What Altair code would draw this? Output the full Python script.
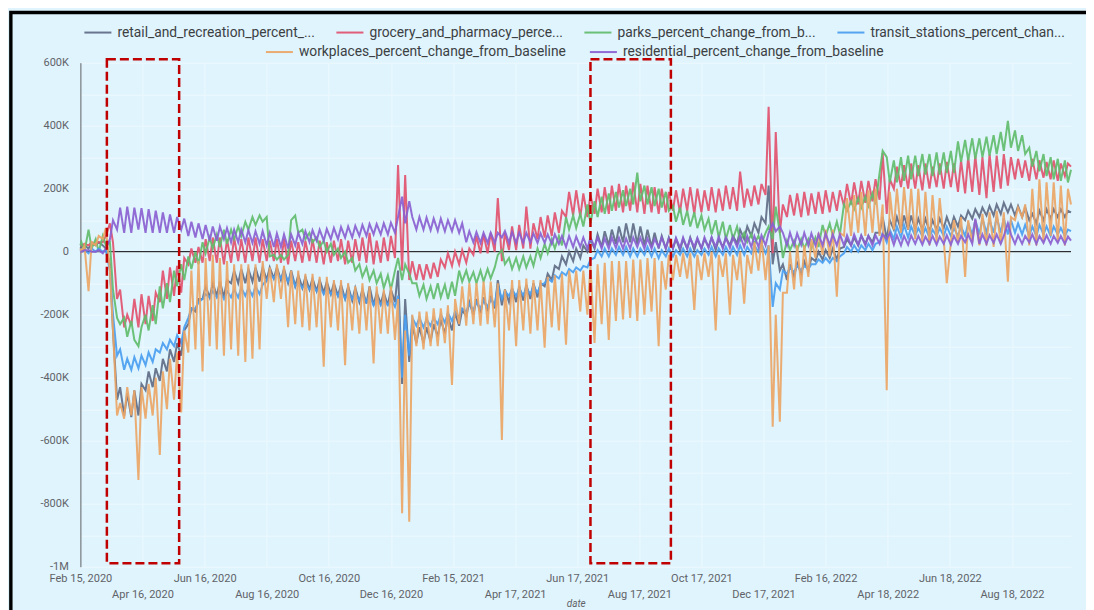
import datetime as dt
import altair as alt
import pandas as pd

SERIES = [
    "retail_and_recreation_percent_change_from_baseline",
    "grocery_and_pharmacy_percent_change_from_baseline",
    "parks_percent_change_from_baseline",
    "transit_stations_percent_change_from_baseline",
    "workplaces_percent_change_from_baseline",
    "residential_percent_change_from_baseline",
]
LEGEND_TEXT = {
    "retail_and_recreation_percent_change_from_baseline": "retail_and_recreation_percent_...",
    "grocery_and_pharmacy_percent_change_from_baseline": "grocery_and_pharmacy_perce...",
    "parks_percent_change_from_baseline": "parks_percent_change_from_b...",
    "transit_stations_percent_change_from_baseline": "transit_stations_percent_chan...",
    "workplaces_percent_change_from_baseline": "workplaces_percent_change_from_baseline",
    "residential_percent_change_from_baseline": "residential_percent_change_from_baseline",
}
COLORS = ["#5f6b86", "#e2516e", "#62bc6c", "#4a9df0", "#eba566", "#8a5fd1"]

# values in thousands, one (Sunday, Wednesday) pair per week from Sun 2020-02-16
RETAIL = [
    (15, 20), (10, 25), (20, 30), (20, 10), (-40, -250), (-470, -430), (-520, -450), (-525, -440), (-520, -420), (-440, -380),
    (-430, -370), (-410, -340), (-380, -310), (-350, -290), (-330, -250), (-230, -180), (-190, -150), (-150, -110), (-145, -100), (-140, -95),
    (-145, -90), (-100, -60), (-100, -55), (-100, -55), (-95, -50), (-95, -50), (-90, -50), (-85, -50), (-90, -55), (-100, -60),
    (-110, -75), (-115, -80), (-120, -85), (-125, -90), (-130, -95), (-135, -100), (-140, -105), (-150, -110), (-155, -115), (-160, -120),
    (-165, -110), (-170, -130), (-165, -130), (-170, -120), (-160, -60), (-420, -150), (-350, -230), (-290, -240), (-290, -240), (-285, -230),
    (-270, -215), (-260, -205), (-250, -195), (-235, -185), (-205, -160), (-200, -150), (-195, -145), (-190, -140), (-180, -90), (-170, -120),
    (-160, -115), (-160, -110), (-155, -105), (-150, -100), (-145, -100), (-110, -70), (-90, -45), (-55, -15), (-40, 0), (-30, 10),
    (-20, 20), (0, 40), (10, 55), (15, 65), (20, 70), (25, 80), (30, 90), (30, 90), (25, 80), (20, 70),
    (15, 60), (10, 50), (10, 45), (10, 40), (5, 40), (10, 45), (5, 40), (10, 40), (15, 45), (5, 40),
    (15, 45), (20, 50), (25, 70), (40, 80), (50, 90), (60, 110), (90, 210), (-40, 30), (-60, -40), (-90, -40),
    (-80, -35), (-70, -30), (-60, -20), (-30, 0), (-25, 5), (-20, 10), (-25, 10), (15, 40), (20, 45), (20, 50),
    (25, 50), (30, 60), (60, 110), (40, 100), (70, 110), (70, 115), (70, 115), (70, 105), (70, 105), (65, 100),
    (70, 105), (75, 110), (75, 110), (80, 115), (100, 130), (105, 135), (110, 140), (115, 145), (115, 150), (120, 155),
    (125, 150), (115, 145), (110, 140), (100, 120), (90, 130), (100, 135), (105, 135), (110, 135), (110, 130),
]
GROCERY = [
    (20, 25), (20, 30), (25, 30), (30, 50), (90, 30), (-150, -120), (-240, -200), (-235, -150), (-240, -135), (-230, -140),
    (-220, -130), (-160, -60), (-150, -50), (-140, -45), (-130, -20), (-40, 10), (-35, 15), (-35, 40), (-30, 45), (-35, 45),
    (-40, 40), (-35, 45), (-30, 40), (-35, 45), (-30, 45), (-35, 40), (-30, 35), (-30, 40), (-35, 40), (-40, 35),
    (-30, 30), (-35, 35), (-30, 40), (-35, 35), (-40, 30), (-35, 35), (-30, 40), (-40, 35), (-35, 40), (-30, 45),
    (-35, 60), (-40, 35), (-35, 45), (-30, 50), (-20, 275), (-60, 243), (-90, -30), (-90, -40), (-90, -40), (-85, -35),
    (-80, -25), (-50, -5), (-45, 0), (-40, 5), (-35, 10), (-10, 50), (-5, 55), (-5, 60), (0, 170), (-30, 60),
    (5, 80), (5, 85), (10, 143), (10, 90), (40, 110), (45, 115), (50, 125), (60, 130), (110, 190), (115, 195),
    (110, 185), (110, 180), (120, 200), (125, 205), (120, 210), (130, 215), (125, 210), (130, 220), (125, 215), (120, 210),
    (125, 205), (120, 200), (125, 190), (130, 195), (125, 200), (130, 205), (120, 200), (125, 195), (130, 205), (125, 200),
    (130, 210), (135, 205), (130, 254), (140, 200), (145, 210), (150, 215), (180, 460), (-5, 380), (60, 150), (110, 180),
    (115, 185), (110, 190), (115, 185), (120, 190), (120, 195), (125, 190), (130, 195), (145, 215), (150, 220), (150, 225),
    (155, 225), (160, 230), (165, 312), (120, 230), (200, 270), (205, 275), (200, 280), (200, 275), (195, 280), (200, 270),
    (205, 280), (200, 285), (205, 280), (190, 290), (185, 300), (190, 305), (180, 300), (170, 310), (190, 305), (200, 310),
    (210, 300), (230, 295), (235, 290), (225, 295), (230, 290), (235, 285), (230, 290), (225, 280), (240, 280),
]
PARKS = [
    (30, 0), (70, 10), (40, 0), (50, 20), (30, -120), (-210, -230), (-210, -270), (-220, -280), (-300, -240), (-200, -250),
    (-170, -230), (-110, -180), (-100, -160), (-60, -110), (-40, -90), (-15, -55), (0, -40), (30, -5), (45, 10), (55, 15),
    (70, 25), (70, 40), (80, 50), (95, 70), (110, 85), (115, 95), (110, -15), (-10, -25), (-10, -25), (-10, 100),
    (115, 60), (70, 40), (60, 30), (45, 15), (35, 0), (25, -10), (10, -20), (0, -35), (-20, -60), (-40, -80),
    (-50, -90), (-60, -100), (-70, -115), (-75, -120), (-60, -20), (-90, -40), (-70, -100), (-100, -140), (-105, -150), (-110, -150),
    (-100, -145), (-105, -150), (-95, -140), (-60, -95), (-60, -95), (-65, -100), (-60, -95), (-55, -85), (-50, -10), (5, -40),
    (-20, -55), (-20, -55), (-15, -50), (-15, -45), (10, -20), (25, -5), (40, 10), (50, 20), (110, 70), (115, 75),
    (120, 80), (150, 90), (160, 110), (175, 120), (185, 130), (190, 140), (195, 145), (200, 150), (251, 160), (210, 150),
    (205, 145), (200, 140), (190, 130), (145, 95), (140, 85), (130, 80), (125, 75), (115, 70), (105, 55), (100, 45),
    (95, 40), (85, 40), (80, 35), (60, 30), (55, 25), (50, 25), (60, 80), (40, 143), (60, -20), (35, 5),
    (35, 5), (40, 10), (40, 10), (45, 15), (85, 50), (90, 50), (95, 55), (150, 130), (160, 135), (170, 140),
    (175, 145), (185, 150), (250, 320), (300, 220), (290, 220), (300, 225), (305, 230), (305, 240), (310, 245), (310, 240),
    (315, 245), (315, 250), (320, 250), (350, 285), (355, 290), (360, 295), (360, 300), (365, 305), (370, 310), (380, 320),
    (415, 330), (385, 320), (370, 310), (330, 270), (320, 255), (310, 240), (300, 230), (295, 225), (290, 220),
]
TRANSIT = [
    (0, 5), (-5, 10), (0, 10), (0, 5), (-60, -200), (-330, -310), (-375, -340), (-375, -335), (-370, -330), (-360, -320),
    (-350, -310), (-320, -290), (-310, -280), (-300, -265), (-290, -240), (-210, -180), (-180, -160), (-150, -135), (-145, -125), (-145, -125),
    (-150, -125), (-145, -120), (-145, -115), (-140, -115), (-140, -110), (-135, -105), (-90, -70), (-85, -65), (-85, -65), (-95, -70),
    (-110, -95), (-115, -100), (-120, -105), (-125, -110), (-135, -115), (-135, -120), (-140, -120), (-150, -125), (-150, -130), (-155, -135),
    (-160, -140), (-170, -145), (-170, -150), (-170, -150), (-175, -140), (-400, -200), (-330, -210), (-235, -210), (-240, -215), (-235, -210),
    (-230, -200), (-225, -195), (-220, -190), (-210, -180), (-190, -165), (-185, -160), (-180, -155), (-175, -150), (-170, -105), (-150, -125),
    (-140, -120), (-140, -118), (-138, -115), (-135, -110), (-130, -105), (-100, -85), (-95, -75), (-85, -65), (-75, -55), (-65, -50),
    (-60, -45), (-50, -25), (-20, 5), (-15, 10), (-15, 10), (-10, 15), (-10, 15), (-15, 10), (-15, 10), (-10, 15),
    (-15, 10), (-20, 5), (-15, 10), (-15, 5), (-10, 10), (-15, 10), (-15, 5), (-10, 10), (-10, 15), (-15, 10),
    (-10, 15), (-10, 15), (-10, 20), (-10, 15), (-5, 20), (0, 25), (-5, 20), (-175, -100), (-120, -60), (-70, -50),
    (-65, -45), (-60, -45), (-55, -40), (-40, -25), (-35, -20), (-35, -20), (-30, -15), (-5, 15), (0, 20), (0, 20),
    (5, 25), (5, 25), (30, 60), (30, 70), (40, 80), (45, 85), (45, 80), (50, 75), (50, 75), (45, 70),
    (50, 75), (50, 80), (50, 75), (50, 80), (50, 90), (55, 100), (55, 105), (60, 100), (60, 110), (60, 105),
    (55, 100), (60, 90), (55, 85), (50, 80), (50, 85), (55, 80), (50, 80), (55, 75), (50, 70),
]
WORKPLACES = [
    (0, 20), (-125, 30), (20, 50), (40, 75), (-60, -250), (-520, -480), (-530, -430), (-520, -440), (-725, -430), (-530, -420),
    (-520, -400), (-645, -380), (-500, -340), (-470, -320), (-510, -250), (-320, -60), (-310, -30), (-380, -20), (-300, -10), (-310, -20),
    (-330, -30), (-310, -40), (-330, -40), (-350, -40), (-340, -40), (-310, -30), (-150, -50), (-160, -40), (-150, -45), (-240, -60),
    (-230, -60), (-240, -70), (-250, -70), (-240, -80), (-365, -80), (-240, -90), (-250, -90), (-360, -100), (-250, -110), (-260, -100),
    (-250, -110), (-355, -110), (-260, -120), (-260, -110), (-280, -150), (-830, -250), (-857, -200), (-300, -190), (-310, -190), (-300, -180),
    (-300, -180), (-290, -170), (-423, -150), (-230, -110), (-235, -100), (-230, -100), (-235, -95), (-230, -95), (-240, -100), (-598, -120),
    (-250, -90), (-300, -90), (-250, -85), (-260, -90), (-250, -90), (-305, -80), (-240, -75), (-250, -70), (-295, -60), (-150, -60),
    (-190, -60), (-200, -45), (-290, -40), (-230, -35), (-280, -30), (-220, -30), (-215, -30), (-210, -25), (-220, -25), (-200, -20),
    (-190, -20), (-300, -30), (-120, -10), (-90, -10), (-80, -5), (-85, -5), (-185, -10), (-90, -5), (-80, 0), (-250, -10),
    (-80, -5), (-200, -10), (-90, 0), (-165, -10), (-70, 30), (-60, 40), (-90, 20), (-556, -200), (-540, -130), (-130, 0),
    (-120, 20), (-110, 20), (-80, 40), (-20, 60), (-10, 70), (-15, 70), (-143, 60), (50, 170), (50, 180), (60, 190),
    (50, 195), (60, 200), (50, 150), (-440, 190), (70, 200), (60, 205), (70, 200), (40, 200), (30, 190), (20, 180),
    (30, 170), (40, -100), (30, 100), (30, 110), (-80, 100), (30, 100), (20, 120), (20, 125), (15, 130), (25, 125),
    (-95, 110), (100, 140), (110, 150), (20, 200), (20, 230), (30, 220), (50, 220), (30, 210), (20, 200),
]
RESIDENTIAL = [
    (0, 5), (5, 0), (0, 5), (-5, 10), (40, 100), (70, 140), (60, 143), (60, 140), (70, 138), (60, 135),
    (60, 130), (60, 125), (60, 118), (60, 110), (70, 105), (50, 95), (45, 90), (40, 85), (35, 80), (35, 80),
    (40, 75), (30, 70), (30, 70), (30, 68), (28, 65), (25, 65), (20, 60), (15, 58), (15, 55), (10, 55),
    (20, 60), (25, 65), (30, 68), (35, 70), (35, 72), (40, 75), (40, 78), (45, 80), (45, 82), (50, 85),
    (50, 88), (55, 88), (55, 90), (55, 92), (60, 110), (175, 90), (160, 110), (70, 110), (70, 108), (68, 105),
    (66, 105), (65, 100), (65, 100), (60, 90), (30, 65), (30, 62), (28, 60), (28, 60), (28, 60), (45, 65),
    (28, 62), (28, 60), (28, 60), (30, 58), (28, 58), (28, 55), (25, 55), (25, 50), (15, 50), (15, 48),
    (15, 45), (10, 45), (15, 45), (10, 42), (10, 45), (12, 44), (10, 42), (10, 45), (15, 44), (10, 42),
    (10, 40), (15, 45), (10, 42), (10, 44), (12, 45), (10, 42), (15, 44), (10, 45), (12, 45), (15, 48),
    (10, 45), (12, 46), (15, 50), (15, 50), (15, 50), (15, 52), (20, 60), (90, 65), (80, 60), (20, 60),
    (20, 58), (22, 60), (20, 58), (20, 55), (20, 58), (22, 55), (20, 55), (20, 52), (20, 55), (22, 52),
    (20, 50), (20, 52), (25, 55), (40, 60), (22, 52), (20, 50), (22, 52), (25, 50), (22, 48), (25, 50),
    (22, 48), (25, 52), (22, 50), (25, 50), (30, 55), (25, 105), (25, 55), (25, 52), (28, 55), (25, 50),
    (90, 55), (25, 52), (25, 50), (30, 55), (25, 50), (28, 52), (25, 50), (28, 50), (25, 48),
]
# first day (Sat 2020-02-15) and last day (Sat 2022-10-15)
ENDS = [(10, 125), (20, 270), (20, 260), (5, 65), (10, 150), (0, 35)]
WEEKLY = [RETAIL, GROCERY, PARKS, TRANSIT, WORKPLACES, RESIDENTIAL]

# annotation boxes (dashed red)
BOX_START = ["2020-03-12", "2021-06-30"]
BOX_END = ["2020-05-22", "2021-09-17"]
BOX_TOP = [611, 611]
BOX_BOTTOM = [-989, -989]


def ms(d):
    return int(dt.datetime(d.year, d.month, d.day, tzinfo=dt.timezone.utc).timestamp() * 1000)


FIRST = dt.date(2020, 2, 15)
LAST = dt.date(2022, 10, 15)
dates = [FIRST]
sun0 = dt.date(2020, 2, 16)
for w in range(139):
    s = sun0 + dt.timedelta(days=7 * w)
    dates += [s, s + dt.timedelta(days=3)]
dates.append(LAST)

rows = []
for name, pairs, (a, b) in zip(SERIES, WEEKLY, ENDS):
    vals = [a] + [v for p in pairs for v in p] + [b]
    assert len(vals) == len(dates), (name, len(vals), len(dates))
    for d, v in zip(dates, vals):
        rows.append({"date": ms(d), "series": name, "value": v * 1000})
df = pd.DataFrame(rows)
dfA = df[df.series.isin(SERIES[:4])]
dfB = df[df.series.isin(SERIES[4:])]

boxes = pd.DataFrame({
    "date": [ms(dt.date.fromisoformat(s)) for s in BOX_START],
    "date2": [ms(dt.date.fromisoformat(s)) for s in BOX_END],
    "value": [v * 1000 for v in BOX_TOP],
    "value2": [v * 1000 for v in BOX_BOTTOM],
})

T0 = ms(FIRST)
STEP = 61 * 86400000
x_ticks = [T0 + k * STEP for k in range(16)]
y_ticks = list(range(-1000000, 600001, 100000))

FONT = "Roboto"
AX_COL = "#5f6368"
GRID = "#edf9fe"

x_label = (
    f"round((datum.value - {T0}) / {STEP}) % 2 == 1 ? "
    f"['', utcFormat(datum.value, '%b %d, %Y')] : utcFormat(datum.value, '%b %d, %Y')"
)
y_label = (
    "datum.value % 200000 != 0 ? '' : (datum.value == 0 ? '0' : "
    "(abs(datum.value) >= 1000000 ? (datum.value / 1000000) + 'M' : (datum.value / 1000) + 'K'))"
)

X = alt.X(
    "date:T",
    scale=alt.Scale(type="utc", domain=[T0, ms(LAST)]),
    axis=alt.Axis(
        values=x_ticks, labelExpr=x_label, title="date", titleFontStyle="italic",
        titleFontWeight="normal", titleFontSize=10, titleColor=AX_COL, titleFont=FONT,
        titleY=37, titleBaseline="middle",
        labelFont=FONT, labelFontSize=11, labelColor=AX_COL, labelPadding=6,
        labelLineHeight=15.5, labelOverlap=False, labelFlush=False, labelBound=False,
        ticks=False, tickSize=0, domain=False, grid=True, gridColor=GRID, gridWidth=1,
    ),
)
Y = alt.Y(
    "value:Q",
    scale=alt.Scale(domain=[-1000000, 600000], nice=False, zero=False),
    axis=alt.Axis(
        values=y_ticks, labelExpr=y_label, title=None,
        labelFont=FONT, labelFontSize=11, labelColor=AX_COL, labelPadding=12,
        labelOverlap=False, labelFlush=False, ticks=False, tickSize=0,
        domain=True, domainColor="#5a5e63", domainWidth=1,
        grid=True, gridColor=GRID, gridWidth=1,
    ),
)


def legend_expr(names):
    expr = "datum.label"
    for n in reversed(names):
        expr = f"datum.label == '{n}' ? '{LEGEND_TEXT[n]}' : ({expr})"
    return expr


def legend(names, x, y, pad, cols):
    return alt.Legend(
        title=None, orient="none", legendX=x, legendY=y, direction="horizontal",
        columns=cols, symbolType="stroke", symbolSize=729, symbolStrokeWidth=2,
        labelFont=FONT, labelFontSize=13.8, labelColor="#3c4043", labelOffset=5,
        labelLimit=500, columnPadding=pad, gridAlign="each", padding=0,
        labelExpr=legend_expr(names),
    )


linesA = alt.Chart(dfA).mark_line(strokeWidth=2, opacity=0.92).encode(
    x=X, y=Y,
    color=alt.Color("series:N", scale=alt.Scale(domain=SERIES[:4], range=COLORS[:4]),
                    legend=legend(SERIES[:4], 3.0, -45.0, 17, 4)),
)
linesB = alt.Chart(dfB).mark_line(strokeWidth=2, opacity=0.92).encode(
    x=X, y=Y,
    color=alt.Color("series:N", scale=alt.Scale(domain=SERIES[4:], range=COLORS[4:]),
                    legend=legend(SERIES[4:], 184.5, -25.5, 20, 2)),
)

zero = alt.Chart(pd.DataFrame({"value": [0]})).mark_rule(color="black", strokeWidth=1).encode(y=Y)

box = alt.Chart(boxes).mark_rect(filled=False, stroke="#c00000", strokeWidth=2.5, strokeDash=[9, 4]).encode(
    x=X, x2="date2:T", y=Y, y2="value2:Q"
)

frame = alt.Chart(pd.DataFrame({"k": [0]})).mark_rect(filled=False, stroke="black", strokeWidth=3.4).encode(
    x=alt.value(-69.55), x2=alt.value(1060), y=alt.value(-50.2), y2=alt.value(600)
)

chart = alt.layer(frame, zero, linesA, linesB, box).resolve_scale(color="independent").properties(
    width=990.6, height=504,
    padding={"left": 72.4, "top": 54.7, "right": 15, "bottom": 43.3},
    autosize=alt.AutoSizeParams(type="none"),
    background="#dff4fd",
).configure_view(stroke=None)

chart.save("out.html", embed_options={"renderer": "svg", "actions": False})
